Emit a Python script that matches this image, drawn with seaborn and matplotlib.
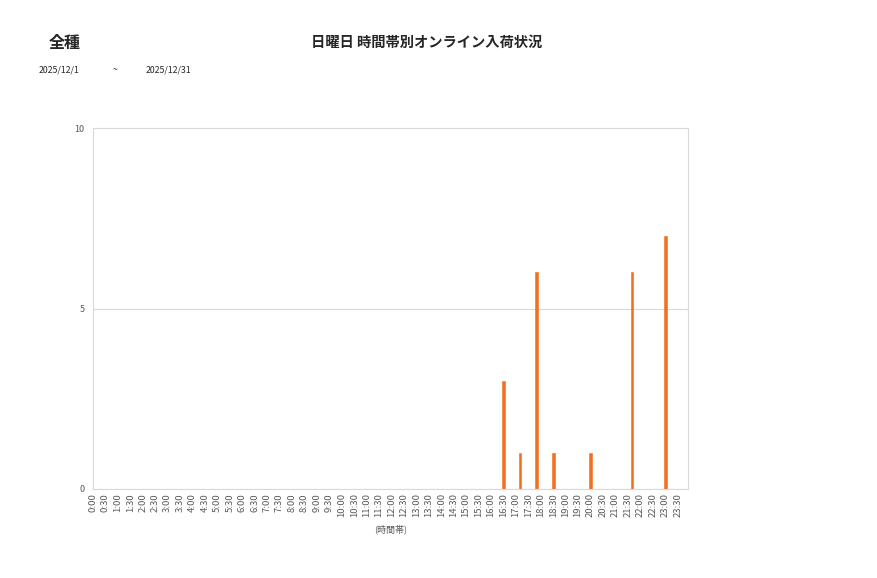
import numpy as np
import pandas as pd
import matplotlib
matplotlib.use("Agg")
import matplotlib.pyplot as plt
import seaborn as sns

sns.set_theme(style="white")
plt.rcParams['font.family'] = ['Noto Sans CJK JP', 'DejaVu Sans']

# 10-minute slots over the day; labels shown every 30 minutes
slots = [f"{h}:{m:02d}" for h in range(24) for m in range(0, 60, 10)]
tick_labels = [f"{h}:{m:02d}" for h in range(24) for m in (0, 30)]

# arrivals (all other slots are zero)
arrival_slots = ["16:30", "17:10", "17:50", "18:30", "20:00", "21:40", "23:00"]
arrival_counts = [3, 1, 6, 1, 1, 6, 7]

counts = dict(zip(arrival_slots, arrival_counts))
df = pd.DataFrame({"slot": slots, "count": [counts.get(s, 0) for s in slots]})

bar_color = "#f07020"
grid_color = "#d9d9d9"
text_color = "#595959"

fig = plt.figure(figsize=(8.77, 5.78), dpi=100)
ax = fig.add_axes([0.106, 0.154, 0.6785, 0.6245])

sns.barplot(data=df, x="slot", y="count", color=bar_color, width=0.66,
            saturation=1, linewidth=0.4, edgecolor=bar_color, ax=ax)

ax.set_xlim(0, len(slots) - 0.5)
ax.set_ylim(0, 10)
ax.set_yticks([0, 5, 10])
ax.set_yticklabels(["0", "5", "10"], fontsize=6.5, color=text_color)
ax.set_xticks(np.arange(0, len(slots), 3))
ax.set_xticklabels(tick_labels, rotation=90, fontsize=6.8, color=text_color)
ax.tick_params(axis="both", length=0, pad=6)
ax.tick_params(axis="x", pad=3)

ax.yaxis.grid(True, color=grid_color, linewidth=0.8)
ax.set_axisbelow(True)
for sp in ax.spines.values():
    sp.set_color(grid_color)
    sp.set_linewidth(0.8)

ax.set_ylabel("")
ax.set_xlabel("(時間帯)", fontsize=6.5, color=text_color, labelpad=5)

fig.text(0.074, 0.925, "全種", fontsize=11.5, fontweight="bold", ha="center", va="center")
fig.text(0.487, 0.925, "日曜日 時間帯別オンライン入荷状況", fontsize=10.3, fontweight="bold",
         ha="center", va="center")
fig.text(0.044, 0.879, "2025/12/1", fontsize=6.3, ha="left", va="center")
fig.text(0.131, 0.879, "~", fontsize=6.3, ha="center", va="center")
fig.text(0.166, 0.879, "2025/12/31", fontsize=6.3, ha="left", va="center")

fig.savefig("out.png", dpi=100)
plt.close(fig)
